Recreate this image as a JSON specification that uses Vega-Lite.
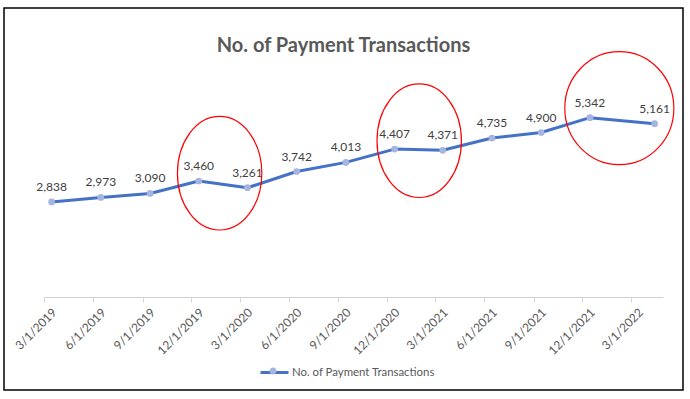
{
  "$schema": "https://vega.github.io/schema/vega-lite/v6.json",
  "width": 679,
  "height": 382,
  "autosize": "none",
  "padding": {"left": 4, "top": 8, "right": 7, "bottom": 9},
  "background": "white",
  "config": {
    "font": "Lato",
    "view": {"stroke": "#000000", "strokeWidth": 1.5, "fill": "white"}
  },
  "title": {
    "text": "No. of Payment Transactions",
    "anchor": "middle",
    "frame": "group",
    "orient": "top",
    "offset": -64,
    "baseline": "alphabetic",
    "font": "Lato",
    "fontSize": 20,
    "fontWeight": "bold",
    "color": "#595959"
  },
  "datasets": {
    "tx": [
      {"date": "2019/03/15", "series": "No. of Payment Transactions", "value": 2838},
      {"date": "2019/06/15", "series": "No. of Payment Transactions", "value": 2973},
      {"date": "2019/09/15", "series": "No. of Payment Transactions", "value": 3090},
      {"date": "2019/12/15", "series": "No. of Payment Transactions", "value": 3460},
      {"date": "2020/03/15", "series": "No. of Payment Transactions", "value": 3261},
      {"date": "2020/06/15", "series": "No. of Payment Transactions", "value": 3742},
      {"date": "2020/09/15", "series": "No. of Payment Transactions", "value": 4013},
      {"date": "2020/12/15", "series": "No. of Payment Transactions", "value": 4407},
      {"date": "2021/03/15", "series": "No. of Payment Transactions", "value": 4371},
      {"date": "2021/06/15", "series": "No. of Payment Transactions", "value": 4735},
      {"date": "2021/09/15", "series": "No. of Payment Transactions", "value": 4900},
      {"date": "2021/12/15", "series": "No. of Payment Transactions", "value": 5342},
      {"date": "2022/04/15", "series": "No. of Payment Transactions", "value": 5161}
    ],
    "tall": [
      {"date": "2020/01/23", "value": 3692},
      {"date": "2021/01/30", "value": 4657}
    ],
    "round": [
      {"date": "2022/02/08", "value": 5622}
    ],
    "baseline": [
      {"start": "2019/03/01", "end": "2022/05/01", "value": 0}
    ]
  },
  "encoding": {
    "x": {
      "field": "date",
      "type": "temporal",
      "scale": {
        "domain": [
          {"year": 2018, "month": 12, "date": 16},
          {"year": 2022, "month": 6, "date": 7}
        ],
        "nice": false
      },
      "axis": {
        "title": null,
        "values": [
          {"year": 2019, "month": 3, "date": 1},
          {"year": 2019, "month": 6, "date": 1},
          {"year": 2019, "month": 9, "date": 1},
          {"year": 2019, "month": 12, "date": 1},
          {"year": 2020, "month": 3, "date": 1},
          {"year": 2020, "month": 6, "date": 1},
          {"year": 2020, "month": 9, "date": 1},
          {"year": 2020, "month": 12, "date": 1},
          {"year": 2021, "month": 3, "date": 1},
          {"year": 2021, "month": 6, "date": 1},
          {"year": 2021, "month": 9, "date": 1},
          {"year": 2021, "month": 12, "date": 1},
          {"year": 2022, "month": 3, "date": 1}
        ],
        "format": "%-m/%-d/%Y",
        "labelAngle": -45,
        "labelAlign": "right",
        "labelBaseline": "middle",
        "labelFont": "Lato",
        "labelFontSize": 12,
        "labelColor": "#595959",
        "labelPadding": 8,
        "labelOffset": 10,
        "labelFlush": false,
        "labelOverlap": false,
        "domain": false,
        "grid": false,
        "ticks": true,
        "tickColor": "#D0D0D0",
        "tickSize": 4,
        "offset": -92
      }
    },
    "y": {
      "field": "value",
      "type": "quantitative",
      "scale": {"domain": [-2747, 8598], "nice": false, "zero": false},
      "axis": null
    }
  },
  "layer": [
    {
      "data": {"name": "baseline"},
      "mark": {"type": "rule", "color": "#D0D0D0", "strokeWidth": 1},
      "encoding": {
        "x": {"field": "start", "type": "temporal"},
        "x2": {"field": "end"},
        "y": {"field": "value", "type": "quantitative"}
      }
    },
    {
      "data": {"name": "tx"},
      "mark": {"type": "line", "strokeWidth": 3, "strokeCap": "round", "strokeJoin": "round"},
      "encoding": {
        "stroke": {
          "field": "series",
          "type": "nominal",
          "scale": {"range": ["#4472C4"]},
          "legend": {
            "title": null,
            "orient": "none",
            "legendX": 255,
            "legendY": 349,
            "padding": 0,
            "symbolType": "M-1,0H1",
            "symbolSize": 784,
            "symbolStrokeWidth": 3,
            "symbolOffset": 0,
            "labelOffset": 2,
            "labelFont": "Lato",
            "labelFontSize": 11.4,
            "labelColor": "#595959"
          }
        }
      }
    },
    {
      "data": {"name": "tx"},
      "mark": {"type": "point", "filled": true, "size": 45, "opacity": 1},
      "encoding": {
        "fill": {
          "field": "series",
          "type": "nominal",
          "scale": {"range": ["#A5B5E0"]},
          "legend": {
            "title": null,
            "orient": "none",
            "legendX": 255,
            "legendY": 349,
            "padding": 0,
            "symbolType": "M-0.25,0A0.25,0.25 0 1,1 0.25,0A0.25,0.25 0 1,1 -0.25,0Z",
            "symbolSize": 784,
            "symbolStrokeWidth": 0,
            "symbolOffset": 0,
            "labelOffset": 2,
            "labelExpr": "''"
          }
        }
      }
    },
    {
      "data": {"name": "tx"},
      "mark": {"type": "text", "dy": -15, "baseline": "middle", "align": "center", "fontSize": 12, "font": "Lato", "color": "#404040"},
      "encoding": {
        "text": {"field": "value", "type": "quantitative", "format": ","}
      }
    },
    {
      "data": {"name": "tall"},
      "mark": {
        "type": "point",
        "filled": false,
        "shape": "M-0.743,0A0.743,1 0 1,1 0.743,0A0.743,1 0 1,1 -0.743,0Z",
        "size": 12900,
        "stroke": "#FF0000",
        "strokeWidth": 1.2,
        "opacity": 1
      }
    },
    {
      "data": {"name": "round"},
      "mark": {
        "type": "point",
        "filled": false,
        "shape": "M-0.965,0A0.965,1 0 1,1 0.965,0A0.965,1 0 1,1 -0.965,0Z",
        "size": 12769,
        "stroke": "#FF0000",
        "strokeWidth": 1.2,
        "opacity": 1
      }
    }
  ]
}
